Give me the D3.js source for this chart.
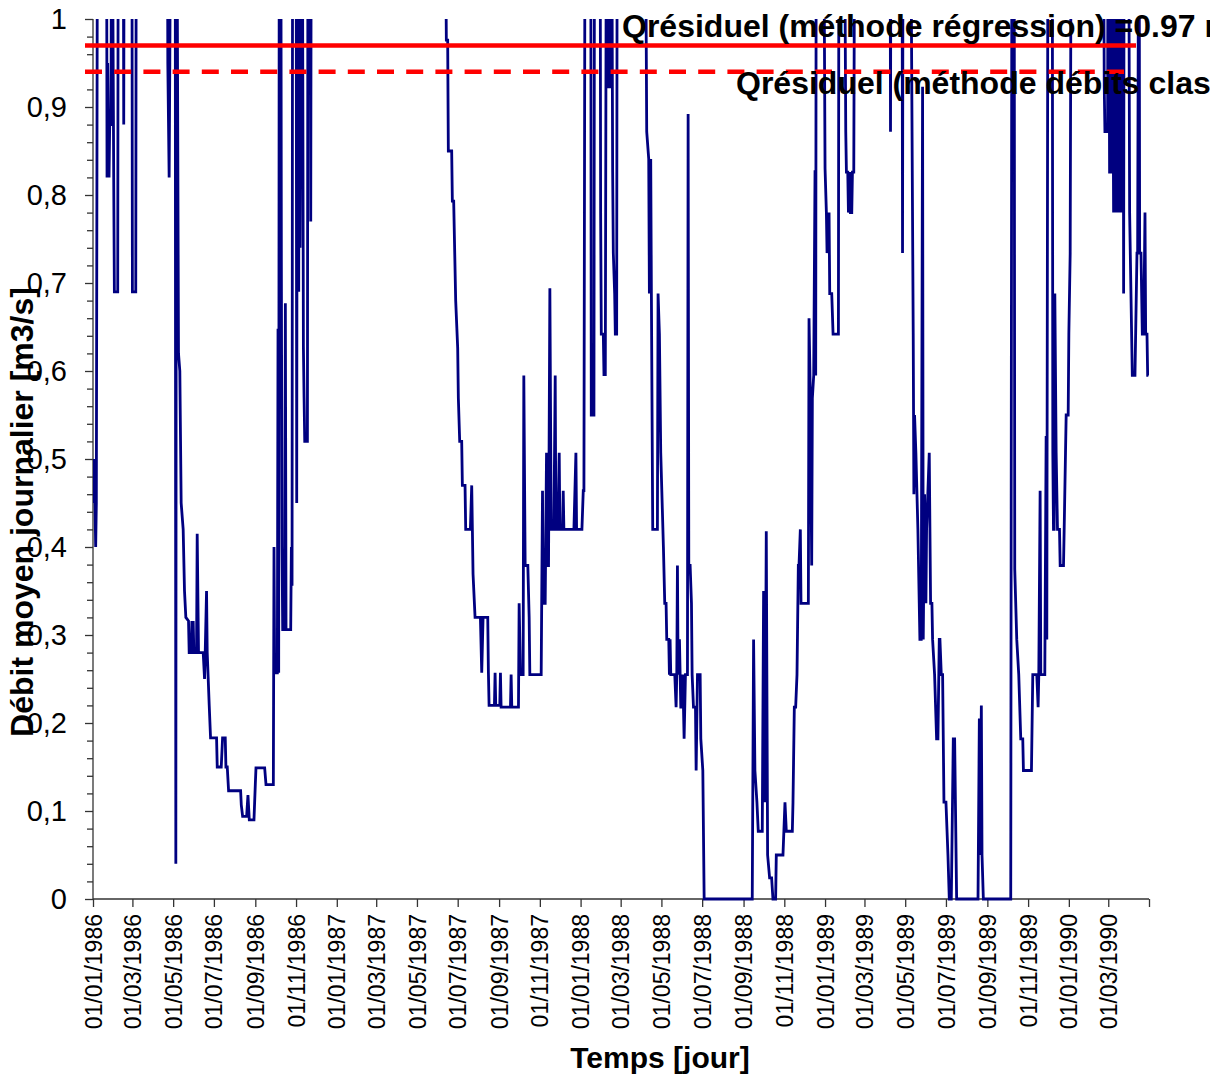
<!DOCTYPE html>
<html lang="fr">

<script src="https://d3js.org/d3.v7.min.js"></script>

<head>
    <meta charset="UTF-8">
    <title>Debit moyen journalier</title>
    <style>
        body { margin: 0; background: white; }
        svg { display: block; font-family: "Liberation Sans", Arial, sans-serif; }
    </style>
</head>
<body>
    <svg width="1228" height="1081"></svg>

    <script>
        // data : [jour depuis le 01/01/1986, debit m3/s] (1.3 = hors echelle, au-dessus de 1)
        const debit1986 = [[0,.50],[1,.45],[2,.50],[4,.40],[5,.45],[7,1.3],[20,1.3],[21,.82],[22,.95],[24,.82],[25,.88],[27,.88],[28,1.3],[31,.82],[32,.69],[37,.69],[38,1.3],[45,1.3],[46,.88],[47,1.3],[58,1.3],[59,.69],[64,.69],[65,1.3],[111,1.3],[112,.95],[114,.82],[115,.95],[117,1.3],[123,1.3],[124,.04],[125,1.3],[128,.62],[130,.60],[132,.45],[135,.42],[137,.35],[139,.32],[143,.316],[144,.28],[147,.28],[148,.316],[149,.28],[150,.316],[151,.28],[155,.28],[156,.415],[158,.28],[165,.28],[167,.25],[168,.28],[170,.35],[171,.28],[174,.22],[176,.183],[185,.183],[186,.15],[192,.15],[194,.183],[198,.183],[199,.15],[201,.15],[203,.123],[221,.123],[222,.107],[224,.094],[230,.094],[232,.118],[234,.09],[241,.09],[243,.13],[244,.149],[257,.149],[259,.13],[270,.13],[271,.40],[272,.257],[276,.257],[277,.648],[278,.257],[279,1.3],[281,1.3],[282,.726],[283,.40],[284,.306],[285,.306],[286,.356],[287,.306],[288,.677],[289,.306],[296,.306],[297,.40],[298,.356],[299,1.3],[304,1.3],[305,.45],[306,1.3],[307,1.3],[308,.69],[309,1.3],[310,.74],[312,1.3],[313,1.3],[315,.628],[316,.57],[317,.52],[321,.52],[322,1.3],[325,1.3],[326,.77],[327,1.3]];
        const debit1987 = [[526,1.3],[529,.976],[531,.976],[532,.85],[537,.85],[538,.793],[540,.793],[543,.68],[546,.626],[547,.569],[549,.52],[552,.52],[553,.47],[557,.47],[558,.42],[565,.42],[567,.47],[568,.42],[569,.369],[572,.32],[580,.32],[582,.257],[584,.32],[591,.32],[592,.257],[593,.22],[601,.22],[602,.257],[603,.22],[609,.22],[610,.257],[611,.218],[625,.218],[626,.255],[627,.218],[637,.218],[638,.336],[640,.255],[644,.255],[645,.595],[647,.379],[651,.379],[653,.32],[654,.255],[671,.255],[673,.464],[674,.336],[677,.336],[679,.507],[680,.379],[682,.379],[684,.694],[686,.42],[690,.42],[692,.595],[693,.42],[696,.42],[698,.507],[699,.42],[703,.42],[704,.464],[705,.42],[720,.42],[723,.507],[724,.42]];
        const debit1988 = [[732,.42],[734,.464],[735,.464],[737,1.3],[745,1.3],[746,.55],[750,.55],[751,1.3],[759,1.3],[760,.78],[761,.642],[764,.642],[765,.596],[767,.596],[769,1.3],[771,1.3],[772,.923],[775,.923],[776,1.3],[778,.826],[779,.734],[781,.688],[782,.642],[784,.642],[785,1.3],[826,1.3],[829,.872],[832,.841],[833,.688],[835,.841],[836,.688],[838,.42],[845,.42],[846,.688],[848,.642],[850,.507],[854,.40],[856,.336],[858,.336],[859,.295],[862,.295],[863,.255],[864,.295],[865,.255],[871,.255],[873,.218],[874,.255],[875,.379],[876,.255],[878,.295],[880,.218],[882,.218],[883,.255],[885,.182],[887,.255],[890,.255],[891,.892],[892,.379],[894,.379],[896,.336],[897,.255],[899,.218],[902,.218],[903,.146],[905,.255],[909,.255],[910,.182],[913,.146],[915,0],[987,0],[989,.295],[991,.146],[994,.11],[996,.077],[1002,.077],[1004,.35],[1006,.11],[1008,.418],[1010,.05],[1013,.024],[1016,.024],[1018,0],[1022,0],[1023,.05],[1033,.05],[1036,.11],[1038,.077],[1047,.077],[1048,.11],[1050,.218],[1052,.218],[1054,.255],[1056,.379],[1057,.379],[1059,.42],[1060,.336],[1071,.336],[1072,.66],[1074,.569],[1076,.379],[1077,.569],[1079,.595],[1081,.828],[1082,.595],[1083,1.3],[1093,1.3]];
        const debit1989 = [[1096,.83],[1098,.78],[1099,.734],[1102,.78],[1103,.688],[1106,.688],[1108,.642],[1116,.642],[1117,1.3],[1124,1.3],[1127,.872],[1128,.826],[1130,.826],[1131,.78],[1133,.826],[1134,.78],[1136,.78],[1137,.826],[1139,.826],[1141,1.3],[1193,1.3],[1194,.872],[1195,1.3],[1211,1.3],[1212,.734],[1213,1.3],[1223,1.3],[1228,.642],[1229,.46],[1230,.55],[1232,.507],[1235,.42],[1238,.295],[1240,.295],[1242,.923],[1243,.295],[1245,.46],[1247,.336],[1248,.42],[1252,.507],[1254,.336],[1256,.336],[1257,.295],[1260,.255],[1263,.182],[1265,.182],[1267,.295],[1268,.295],[1270,.255],[1272,.255],[1274,.11],[1277,.11],[1280,.05],[1282,0],[1285,0],[1288,.182],[1290,.182],[1293,0],[1325,0],[1327,.205],[1328,.05],[1330,.22],[1331,.05],[1333,0],[1374,0],[1376,1.3],[1379,1.3],[1380,.375],[1383,.295],[1386,.255],[1389,.182],[1392,.182],[1393,.146],[1405,.146],[1407,.255],[1413,.255],[1415,.218],[1416,.255],[1418,.464],[1419,.255],[1425,.255],[1427,.526],[1428,.295],[1430,1.3],[1436,1.3],[1437,.507],[1438,.42],[1439,.42],[1440,.688],[1442,.507],[1444,.42],[1447,.42],[1448,.379],[1453,.379],[1454,.42],[1456,.507],[1457,.55],[1460,.55]];
        const debit1990 = [[1461,.642],[1463,.734],[1465,1.3],[1512,1.3],[1514,.923],[1515,.872],[1519,.872],[1520,1.3],[1522,.826],[1524,.826],[1525,1.3],[1528,.78],[1530,1.3],[1531,.78],[1533,1.3],[1534,.78],[1536,1.3],[1538,.78],[1539,1.3],[1541,.78],[1542,1.3],[1543,.688],[1544,1.3],[1550,1.3],[1552,.78],[1556,.595],[1560,.595],[1563,.734],[1564,.734],[1566,1.3],[1567,.734],[1569,.734],[1571,.642],[1573,.642],[1575,.78],[1576,.642],[1578,.642],[1579,.595],[1580,.595]];

        // debits residuels (lignes rouges)
        const qResiduel = [0.97, 0.94];
        const qResiduelLabels = ["Qrésiduel (méthode régression) =0.97 m3/s", "Qrésiduel (méthode débits classés) =0.94 m3/s"];

        // ticks
        const yTicks = [0, 0.1, 0.2, 0.3, 0.4, 0.5, 0.6, 0.7, 0.8, 0.9, 1];
        const yTickLabels = ["0", "0,1", "0,2", "0,3", "0,4", "0,5", "0,6", "0,7", "0,8", "0,9", "1"];
        const xTickDates = ["1986-01-01","1986-03-01","1986-05-01","1986-07-01","1986-09-01","1986-11-01",
                            "1987-01-01","1987-03-01","1987-05-01","1987-07-01","1987-09-01","1987-11-01",
                            "1988-01-01","1988-03-01","1988-05-01","1988-07-01","1988-09-01","1988-11-01",
                            "1989-01-01","1989-03-01","1989-05-01","1989-07-01","1989-09-01","1989-11-01",
                            "1990-01-01","1990-03-01","1990-05-01"];

        const svgElement = d3.select('svg');
        const parseDate = d3.timeParse("%Y-%m-%d");
        const startDate = parseDate("1986-01-01");

        const serie = [].concat(debit1986, debit1987, debit1988, debit1989, debit1990)
            .map(p => ({date: d3.timeDay.offset(startDate, p[0]), q: p[1]}));

        // plot area
        const plotLeft = 93, plotRight = 1149, plotTop = 19, plotBottom = 899;

        const x = d3.scaleTime()
            .domain([startDate, parseDate("1990-05-01")])
            .range([plotLeft, plotRight]);
        const y = d3.scaleLinear()
            .domain([0, 1])
            .range([plotBottom, plotTop]);

        svgElement.append("rect")
            .attr("width", 1228).attr("height", 1081).attr("fill", "white");

        const defs = svgElement.append("defs");
        defs.append("clipPath").attr("id", "plotClip")
            .append("rect")
            .attr("x", plotLeft).attr("y", plotTop)
            .attr("width", plotRight - plotLeft).attr("height", plotBottom - plotTop + 2);
        defs.append("clipPath").attr("id", "chartClip")
            .append("rect")
            .attr("x", 0).attr("y", 0).attr("width", 1210).attr("height", 1081);

        // y axis (major + minor ticks)
        const yAxis = svgElement.append("g")
            .attr("transform", `translate(${plotLeft},0)`)
            .call(d3.axisLeft(y)
                .tickValues(d3.range(0, 1.0001, 0.02))
                .tickSize(6)
                .tickFormat(""));
        yAxis.selectAll(".tick line")
            .filter(d => yTicks.some(t => Math.abs(t - d) < 1e-6))
            .attr("x2", -8);
        yAxis.selectAll("path, line").attr("stroke", "#333").attr("stroke-width", 1.3);
        yAxis.select(".domain").attr("d", `M0,${plotTop}V${plotBottom}`);

        svgElement.append("g")
            .selectAll("text")
            .data(yTicks)
            .join("text")
            .attr("x", plotLeft - 26)
            .attr("y", d => y(d))
            .attr("dy", "0.35em")
            .attr("text-anchor", "end")
            .attr("font-size", 29)
            .attr("fill", "black")
            .text((d, i) => yTickLabels[i]);

        // x axis
        const xTicks = xTickDates.map(parseDate);
        const xAxis = svgElement.append("g")
            .attr("transform", `translate(0,${plotBottom})`)
            .call(d3.axisBottom(x)
                .tickValues(xTicks)
                .tickSize(8)
                .tickFormat((d, i) => i === xTicks.length - 1 ? "" : d3.timeFormat("%d/%m/%Y")(d)));
        xAxis.selectAll("path, line").attr("stroke", "#333").attr("stroke-width", 1.3);
        xAxis.select(".domain").attr("d", `M${plotLeft},0H${plotRight}`);
        xAxis.selectAll("text")
            .attr("transform", "rotate(-90)")
            .attr("text-anchor", "end")
            .attr("x", -15)
            .attr("y", 0)
            .attr("dy", "0.35em")
            .attr("font-size", 23)
            .attr("font-family", "'Liberation Sans', Arial, sans-serif")
            .attr("fill", "black");

        // the daily flow line
        const line = d3.line()
            .x(d => x(d.date))
            .y(d => y(d.q));

        svgElement.append("path")
            .datum(serie)
            .attr("clip-path", "url(#plotClip)")
            .attr("fill", "none")
            .attr("stroke", "#000080")
            .attr("stroke-width", 2.8)
            .attr("stroke-linejoin", "miter")
            .attr("d", line);

        // residual flow lines
        svgElement.selectAll(".residuel")
            .data(qResiduel)
            .join("line")
            .attr("class", "residuel")
            .attr("x1", plotLeft - 8)
            .attr("x2", 1136)
            .attr("y1", d => y(d))
            .attr("y2", d => y(d))
            .attr("stroke", "#FF0000")
            .attr("stroke-width", 4.5)
            .attr("stroke-dasharray", (d, i) => i === 0 ? null : "17,12.2");

        // labels of residual flows (cut at the chart edge, as in the original)
        const labelGroup = svgElement.append("g").attr("clip-path", "url(#chartClip)");
        labelGroup.selectAll("text")
            .data(qResiduelLabels)
            .join("text")
            .attr("x", (d, i) => i === 0 ? 622 : 736)
            .attr("y", (d, i) => i === 0 ? 37 : 94)
            .attr("font-size", 32)
            .attr("font-weight", "bold")
            .attr("fill", "black")
            .text(d => d);

        // axes names
        svgElement.append("text")
            .attr("x", 660)
            .attr("y", 1068)
            .attr("text-anchor", "middle")
            .attr("font-size", 30)
            .attr("font-weight", "bold")
            .text("Temps [jour]");

        svgElement.append("text")
            .attr("transform", "translate(33,512) rotate(-90)")
            .attr("text-anchor", "middle")
            .attr("font-size", 32)
            .attr("font-weight", "bold")
            .text("Débit moyen journalier [m3/s]");
    </script>
</body>
</html>
